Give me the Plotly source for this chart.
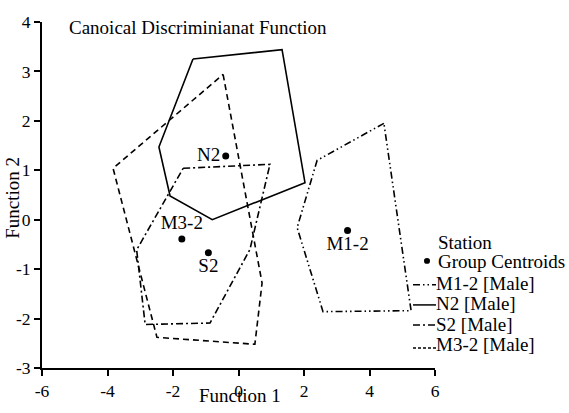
import plotly.graph_objects as go

# ---- data ----
groups = ["M1-2 [Male]", "N2 [Male]", "S2 [Male]", "M3-2 [Male]"]
centroid_names = ["M1-2", "N2", "S2", "M3-2"]
centroid_x = [3.33, -0.39, -0.92, -1.73]
centroid_y = [-0.22, 1.29, -0.67, -0.39]

m12_x = [4.44, 2.40, 1.79, 2.58, 5.27]
m12_y = [1.95, 1.20, -0.16, -1.86, -1.84]

n2_x = [-1.39, 1.33, 2.03, -0.80, -2.09, -2.43]
n2_y = [3.25, 3.44, 0.75, 0.00, 0.48, 1.47]

s2_x = [-1.69, 0.96, 0.35, -0.87, -2.85, -3.11]
s2_y = [1.04, 1.12, -0.60, -2.09, -2.12, -0.61]

m32_x = [-0.47, 0.72, 0.50, -2.49, -3.83]
m32_y = [2.94, -1.28, -2.52, -2.38, 1.04]

x_ticks = [-6, -4, -2, 0, 2, 4, 6]
y_ticks = [-3, -2, -1, 0, 1, 2, 3, 4]

FONT = "Liberation Serif, Times New Roman, serif"
TXT = 19
TICK = 17.5
dashes = {
    "M1-2 [Male]": "7px,3px,1.5px,3px,1.5px,3px",
    "N2 [Male]": "solid",
    "S2 [Male]": "7px,3px,2px,3px",
    "M3-2 [Male]": "6px,4px",
}
polys = {
    "M1-2 [Male]": (m12_x, m12_y),
    "N2 [Male]": (n2_x, n2_y),
    "S2 [Male]": (s2_x, s2_y),
    "M3-2 [Male]": (m32_x, m32_y),
}

fig = go.Figure()
for g in groups:
    px_, py_ = polys[g]
    fig.add_trace(go.Scatter(
        x=list(px_) + list(px_[:1]), y=list(py_) + list(py_[:1]),
        mode="lines", name=g, showlegend=False,
        line=dict(color="black", width=1.6, dash=dashes[g]),
    ))

text_pos = {"M1-2": "bottom center", "N2": "middle left",
            "S2": "bottom center", "M3-2": "top center"}
fig.add_trace(go.Scatter(
    x=centroid_x, y=centroid_y, mode="markers+text",
    text=centroid_names, textposition=[text_pos[n] for n in centroid_names],
    textfont=dict(family=FONT, size=TXT, color="black"),
    marker=dict(color="black", size=7), showlegend=False,
))

W, H = 569, 413
L, R, T, B = 42, 134, 15, 36
pw, ph = W - L - R, H - T - B


def xp(px):
    return (px - L) / pw


def yp(py):
    return (H - B - py) / ph


annotations = [
    dict(text="Canoical Discriminianat Function", x=xp(67), y=yp(21),
         xanchor="left", yanchor="middle"),
    dict(text="Function 1", x=xp(240), y=yp(406), xanchor="center", yanchor="middle"),
    dict(text="Function 2", x=xp(13), y=yp(199), xanchor="center", yanchor="middle",
         textangle=-90),
    dict(text="Station", x=xp(436), y=yp(246), xanchor="left", yanchor="middle"),
    dict(text="Group Centroids", x=xp(436), y=yp(266), xanchor="left", yanchor="middle"),
]
shapes = [dict(type="circle", xref="paper", yref="paper",
               x0=xp(424), x1=xp(430), y0=yp(268), y1=yp(262),
               fillcolor="black", line=dict(width=0))]
leg_y = [289, 310, 331, 352]
for g, ly in zip(groups, leg_y):
    annotations.append(dict(text=g, x=xp(434), y=yp(ly), xanchor="left", yanchor="middle"))
    sy = ly + 1 if g != "M3-2 [Male]" else ly + 4
    shapes.append(dict(type="line", xref="paper", yref="paper",
                       x0=xp(413), x1=xp(436), y0=yp(sy), y1=yp(sy),
                       line=dict(color="black", width=1.5,
                                 dash=dashes[g] if g != "M3-2 [Male]" else "3px,2px")))

for a in annotations:
    a.update(xref="paper", yref="paper", showarrow=False,
             font=dict(family=FONT, size=TXT, color="black"))

fig.update_layout(
    width=W, height=H, autosize=False,
    margin=dict(l=L, r=R, t=T, b=B, pad=0),
    paper_bgcolor="white", plot_bgcolor="white",
    font=dict(family=FONT, size=TXT, color="black"),
    annotations=annotations, shapes=shapes, showlegend=False,
    xaxis=dict(range=[-6, 6], tickvals=x_ticks, ticktext=[str(v) for v in x_ticks],
               showline=True, linewidth=2, linecolor="black", ticks="outside",
               ticklen=6, tickwidth=1.5, tickcolor="black", showgrid=False,
               zeroline=False, tickfont=dict(family=FONT, size=TICK)),
    yaxis=dict(range=[-3, 4], tickvals=y_ticks, ticktext=[str(v) for v in y_ticks],
               showline=True, linewidth=2, linecolor="black", ticks="outside",
               ticklen=6, tickwidth=1.5, tickcolor="black", showgrid=False,
               zeroline=False, tickfont=dict(family=FONT, size=TICK)),
)

fig.write_html("out.html")
